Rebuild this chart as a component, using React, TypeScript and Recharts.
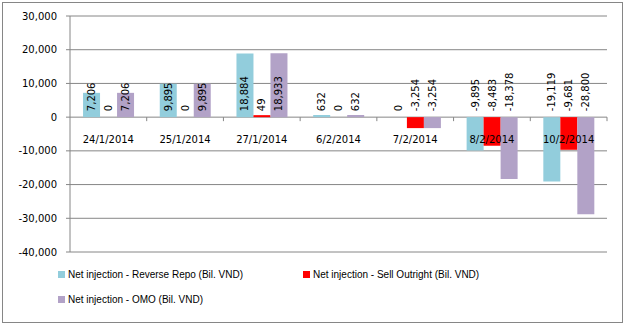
import { BarChart, Bar, XAxis, YAxis, CartesianGrid, LabelList } from 'recharts';

const categories = ['24/1/2014', '25/1/2014', '27/1/2014', '6/2/2014', '7/2/2014', '8/2/2014', '10/2/2014'];
const reverseRepo = [7206, 9895, 18884, 632, 0, -9895, -19119];
const sellOutright = [0, 0, 49, 0, -3254, -8483, -9681];
const omo = [7206, 9895, 18933, 632, -3254, -18378, -28800];
const yTicks = [-40000, -30000, -20000, -10000, 0, 10000, 20000, 30000];

const series = [
  { key: 'repo', name: 'Net injection - Reverse Repo (Bil. VND)', color: '#92cddc' },
  { key: 'sell', name: 'Net injection - Sell Outright (Bil. VND)', color: '#ff0000' },
  { key: 'omo', name: 'Net injection - OMO (Bil. VND)', color: '#b2a2c7' },
];

const data = categories.map((name, i) => ({
  name,
  repo: reverseRepo[i],
  sell: sellOutright[i],
  omo: omo[i],
}));

const W = 625;
const H = 325;
const PLOT_TOP = 16;
const PLOT_BOTTOM = 252;
const PLOT_LEFT = 70;
const PLOT_RIGHT = 607;
const X_AXIS_H = 30;
const Y_MIN = -40000;
const Y_MAX = 30000;
const ZERO_Y = PLOT_TOP + ((PLOT_BOTTOM - PLOT_TOP) * Y_MAX) / (Y_MAX - Y_MIN);
const BAND = (PLOT_RIGHT - PLOT_LEFT) / categories.length;
const FONT = '"DejaVu Sans", Verdana, sans-serif';
const GRID = '#868686';

const fmt = (v: number) => v.toLocaleString('en-US');

// category labels sit under the zero line, not at the bottom of the plot
const CategoryTick = ({ x, payload }: any) => (
  <g>
    <line x1={x + BAND / 2} x2={x + BAND / 2} y1={ZERO_Y} y2={ZERO_Y + 4} stroke={GRID} />
    <text x={x} y={ZERO_Y + 26} textAnchor="middle" fontSize={10} fontFamily={FONT} fill="#000">
      {payload.value}
    </text>
  </g>
);

const BarLabel = ({ x, y, width, height, value }: any) => {
  const cx = x + width / 2;
  const base = y + height - 6;
  return (
    <text
      x={cx}
      y={base}
      transform={`rotate(-90 ${cx} ${base})`}
      textAnchor="start"
      dominantBaseline="central"
      fontSize={10}
      fontFamily={FONT}
      fill="#000"
    >
      {fmt(value)}
    </text>
  );
};

export default function App() {
  return (
    <div style={{ position: 'absolute', left: 0, top: 0, width: W, height: H, background: '#fff' }}>
      <div
        style={{
          position: 'absolute',
          left: 2,
          top: 2,
          width: 619,
          height: 319,
          border: `1px solid ${GRID}`,
        }}
      />
      <div style={{ position: 'absolute', left: 0, top: 0 }}>
        <BarChart
          width={W}
          height={H}
          data={data}
          margin={{ top: PLOT_TOP, right: W - PLOT_RIGHT, left: 0, bottom: H - PLOT_BOTTOM - X_AXIS_H }}
          barCategoryGap="17%"
          barGap={0}
        >
          <CartesianGrid vertical={false} stroke={GRID} />
          <YAxis
            width={PLOT_LEFT}
            domain={[Y_MIN, Y_MAX]}
            ticks={yTicks}
            interval={0}
            tickFormatter={fmt}
            tick={{ fontSize: 10, fontFamily: FONT, fill: '#000' }}
            axisLine={{ stroke: GRID }}
            tickLine={{ stroke: GRID }}
            tickSize={4}
            tickMargin={9}
          />
          <XAxis
            dataKey="name"
            height={X_AXIS_H}
            axisLine={false}
            tickLine={false}
            tick={<CategoryTick />}
            interval={0}
          />
          {series.map((s) => (
            <Bar
              key={s.key}
              dataKey={s.key}
              name={s.name}
              fill={s.color}
              isAnimationActive={false}
              minPointSize={(v: number) => (v === 0 ? 0.001 : 2)}
            >
              <LabelList dataKey={s.key} content={<BarLabel />} />
            </Bar>
          ))}
        </BarChart>
      </div>
      {series.map((s, i) => (
        <div
          key={s.key}
          style={{
            position: 'absolute',
            left: i === 1 ? 303 : 58,
            top: i === 2 ? 294 : 269,
            display: 'flex',
            alignItems: 'center',
            fontFamily: '"Liberation Sans", Arial, sans-serif',
            fontSize: 10,
            color: '#000',
            whiteSpace: 'nowrap',
          }}
        >
          <span style={{ width: 7, height: 7, background: s.color, marginRight: 3, display: 'inline-block' }} />
          {s.name}
        </div>
      ))}
    </div>
  );
}
